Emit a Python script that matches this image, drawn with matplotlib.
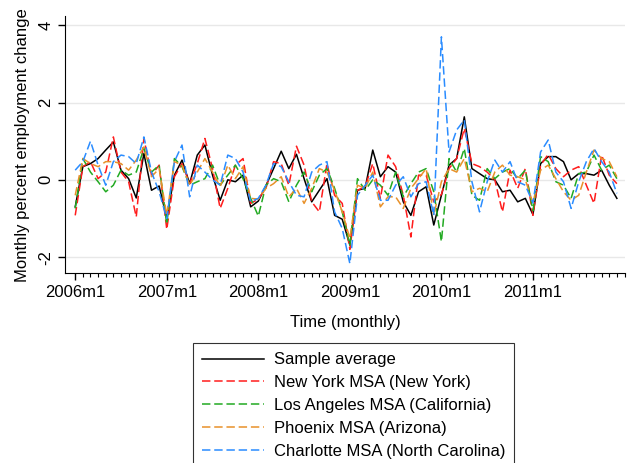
import matplotlib
matplotlib.use("Agg")
import matplotlib.pyplot as plt
import numpy as np

plt.rcParams['font.family'] = ['Liberation Sans', 'DejaVu Sans']

# monthly percent employment change, 2006m1 - 2011m12
avg = [-0.7, 0.34, 0.42, 0.55, 0.77, 0.98, 0.25, 0.03, -0.47, 0.68, -0.27, -0.16,
       -1.0, 0.12, 0.51, -0.1, 0.64, 0.9, 0.12, -0.53, 0.0, -0.05, 0.12, -0.7,
       -0.55, -0.15, 0.29, 0.74, 0.29, 0.66, 0.03, -0.57, -0.27, 0.03, -0.92, -1.02,
       -1.69, -0.27, -0.22, 0.77, 0.08, 0.34, 0.2, -0.57, -0.92, -0.31, -0.18, -1.17,
       -0.4, 0.38, 0.55, 1.63, 0.29, 0.16, 0.03, 0.0, -0.31, -0.27, -0.57, -0.48,
       -0.9, 0.42, 0.6, 0.6, 0.47, 0.0, 0.16, 0.16, 0.12, 0.25, -0.14, -0.48]
new_york = [-0.92, 0.34, 0.47, 0.03, 0.2, 1.11, 0.2, -0.05, -0.96, 1.07, 0.12, 0.38,
            -1.28, 0.08, 0.42, -0.1, 0.42, 1.07, 0.29, -0.74, -0.22, 0.38, 0.55, -0.61,
            -0.5, -0.22, 0.47, 0.42, -0.14, 0.87, 0.38, -0.57, -0.83, 0.42, -0.4, -0.61,
            -1.8, -0.27, -0.18, 0.42, -0.48, 0.64, 0.34, -0.4, -1.48, 0.12, 0.12, -0.57,
            -0.38, 0.29, 0.55, 1.33, 0.42, 0.34, 0.2, 0.0, -0.83, 0.25, -0.22, 0.29,
            -0.92, 0.38, 0.66, 0.29, 0.08, 0.25, 0.34, -0.14, -0.61, 0.64, 0.12, -0.1]
los_angeles = [-0.74, 0.55, 0.2, -0.05, -0.31, -0.14, 0.25, 0.12, 0.2, 0.81, 0.2, 0.38,
               -1.15, 0.55, 0.34, -0.14, -0.05, 0.03, 0.38, -0.14, 0.12, 0.38, 0.03, -0.48,
               -0.94, -0.14, 0.03, -0.05, -0.57, -0.14, 0.2, -0.31, 0.12, 0.29, -0.22, -0.83,
               -1.69, 0.03, -0.27, 0.0, -0.14, -0.4, 0.2, -0.44, -0.1, 0.2, 0.29, -0.31,
               -1.6, 0.55, 0.2, 0.81, -0.4, -0.53, 0.29, 0.03, 0.2, 0.29, 0.03, 0.25,
               -0.8, 0.6, 0.47, -0.05, -0.14, -0.48, 0.16, 0.2, 0.64, 0.25, 0.38, 0.03]
phoenix = [-0.4, 0.55, 0.42, 0.34, 0.47, 0.47, 0.42, 0.25, 0.51, 0.85, 0.08, 0.29,
           -0.92, 0.47, 0.38, -0.14, 0.2, 0.55, 0.2, -0.18, 0.38, 0.03, 0.34, -0.48,
           -0.5, -0.22, -0.1, 0.08, -0.44, -0.22, -0.61, -0.22, 0.29, 0.2, -0.27, -0.83,
           -1.52, -0.14, -0.22, 0.2, -0.7, -0.44, -0.44, -0.74, -0.22, 0.03, 0.29, -0.92,
           -0.05, 0.29, 0.2, 0.55, -0.31, -0.22, -0.31, 0.2, 0.38, 0.12, 0.08, 0.0,
           -0.6, 0.25, 0.38, 0.03, -0.31, -0.53, -0.4, 0.2, 0.77, 0.55, 0.47, 0.08]
charlotte = [0.25, 0.47, 1.0, 0.38, -0.14, 0.47, 0.64, 0.6, 0.42, 1.11, 0.2, -0.31,
             -1.0, 0.47, 0.9, -0.44, 0.38, 0.2, 0.0, -0.14, 0.64, 0.55, 0.2, -0.57,
             -0.48, -0.14, 0.42, 0.34, -0.05, -0.4, -0.44, 0.2, 0.38, 0.47, -0.83, -1.26,
             -2.17, -0.4, -0.14, 0.12, -0.53, -0.53, -0.14, 0.08, -0.44, -0.1, -0.05, -0.92,
             3.7, 0.72, 1.29, 1.55, -0.05, -0.83, -0.05, 0.51, 0.2, 0.47, -0.05, -0.14,
             -0.6, 0.72, 1.03, 0.2, -0.05, -0.74, -0.05, 0.47, 0.81, 0.47, 0.2, -0.35]

years = [2006, 2007, 2008, 2009, 2010, 2011]
tick_labels = [str(y) + "m1" for y in years]
months = np.arange(len(avg))

fig = plt.figure(figsize=(6.3, 4.63), dpi=100)
ax = fig.add_axes([65.3 / 630, 1 - 273.3 / 463, (624.5 - 65.3) / 630, (273.3 - 16) / 463])

ax.plot(months, avg, color='black', lw=1.1, label='Sample average')
ax.plot(months, new_york, color='#ff1c1c', lw=1.1, dashes=(5.5, 2.5), label='New York MSA (New York)')
ax.plot(months, los_angeles, color='#22aa22', lw=1.1, dashes=(5.5, 2.5), label='Los Angeles MSA (California)')
ax.plot(months, phoenix, color='#e8912a', lw=1.1, dashes=(5.5, 2.5), label='Phoenix MSA (Arizona)')
ax.plot(months, charlotte, color='#2a8cff', lw=1.1, dashes=(5.5, 2.5), label='Charlotte MSA (North Carolina)')

ax.set_xlim(-1.3, 72)
ax.set_ylim(-2.42, 4.24)
ax.set_xticks(np.arange(0, 72, 12))
ax.set_xticklabels(tick_labels)
ax.set_xticks(np.arange(0, 73), minor=True)
ax.set_yticks([-2, 0, 2, 4])
ax.set_yticklabels(['-2', '0', '2', '4'], rotation=90, va='center')
ax.tick_params(axis='both', which='major', labelsize=12, length=5, width=1)
ax.tick_params(axis='x', which='minor', length=3, width=0.8)
ax.yaxis.grid(True, color='#e8e8e8', lw=1)
ax.set_axisbelow(True)
ax.spines['top'].set_visible(False)
ax.spines['right'].set_visible(False)
ax.spines['bottom'].set_bounds(-1.3, 72)

ax.set_xlabel('Time (monthly)', fontsize=12, labelpad=11)
ax.set_ylabel('Monthly percent employment change', fontsize=12, labelpad=6)

leg = fig.legend(loc='upper left', bbox_to_anchor=(192.7 / 630, 1 - 343.3 / 463),
                 fontsize=12, frameon=True, fancybox=False, edgecolor='black',
                 handlelength=3.7, handletextpad=0.6, labelspacing=0.47, borderpad=0.55,
                 borderaxespad=0)
leg.get_frame().set_linewidth(0.8)

fig.savefig('out.png', dpi=100)
